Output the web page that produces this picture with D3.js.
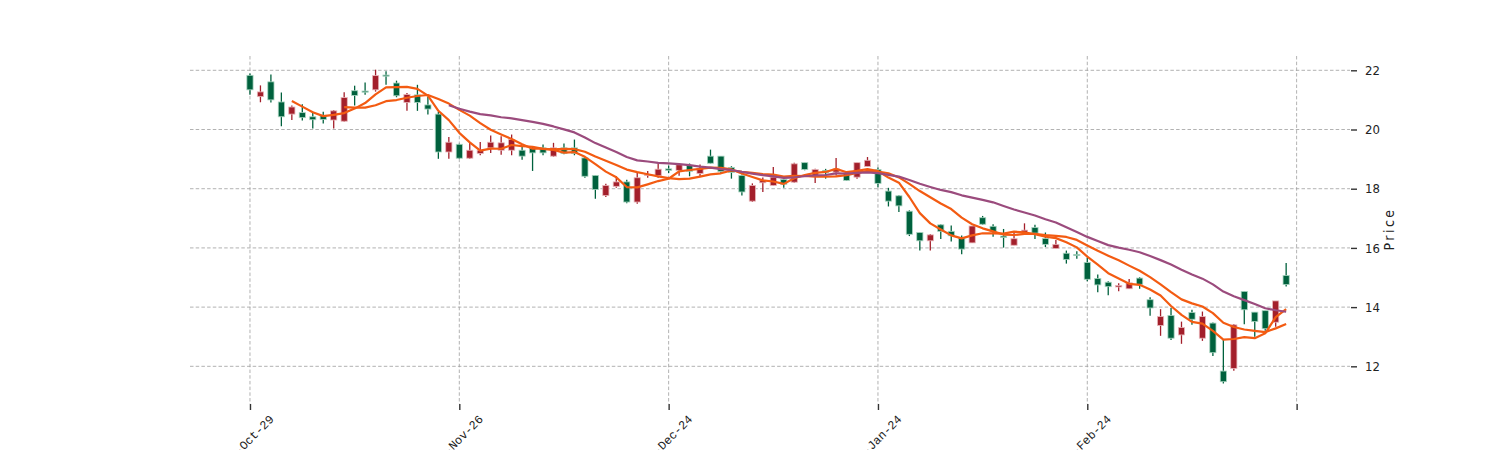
<!DOCTYPE html>
<html><head><meta charset="utf-8">
<script src="https://cdn.jsdelivr.net/npm/d3@7"></script>
<style>html,body{margin:0;padding:0;background:#fff;}svg{display:block;}</style>
</head><body>
<svg id="chart" width="1500" height="450"></svg>
<script>
const tickLabels = ["2024-Oct-29","2024-Nov-26","2024-Dec-24","2025-Jan-24","2025-Feb-24",""];
const tickIndex = [0,20,40,60,80,100];
const yTicks = [12,14,16,18,20,22];
const openV = [21.83,21.11,21.61,20.93,20.52,20.57,20.43,20.48,20.32,20.28,
21.31,21.30,21.34,21.84,21.57,20.91,21.17,20.83,20.52,19.24,
19.50,19.03,19.19,19.38,19.30,19.30,19.30,19.36,19.38,19.10,
19.38,19.38,19.04,18.45,17.77,18.08,18.23,17.55,18.45,18.44,
18.67,18.62,18.78,18.51,19.10,19.10,18.72,18.45,17.58,18.20,
18.11,18.31,18.22,18.88,18.43,18.62,18.56,18.51,18.39,18.75,
18.65,17.92,17.76,17.24,16.52,16.24,16.78,16.56,16.33,16.17,
17.02,16.73,16.40,16.09,16.52,16.69,16.32,15.98,15.82,15.78,
15.51,14.97,14.84,14.68,14.62,14.98,14.25,13.38,13.72,13.06,
13.82,12.95,13.46,11.84,11.93,14.53,13.83,13.88,13.49,15.07];
const highV = [21.89,21.49,21.86,21.25,20.81,20.85,20.60,20.60,20.66,21.26,
21.48,21.59,22.02,21.97,21.65,21.23,21.51,21.11,20.60,19.75,
19.52,19.55,19.58,19.80,19.77,19.83,19.41,19.44,19.49,19.55,
19.53,19.66,19.07,18.45,18.17,18.42,18.30,18.53,18.60,18.85,
18.78,18.85,18.85,18.82,19.32,19.10,18.76,18.48,18.18,18.38,
18.73,18.39,18.88,18.88,18.67,18.67,19.04,18.53,18.88,19.07,
18.72,18.03,17.78,17.27,16.52,16.47,16.80,16.76,16.42,16.74,
17.08,16.80,16.64,16.51,16.83,16.78,16.52,16.27,15.91,15.89,
15.67,15.10,14.87,14.81,14.95,15.01,14.33,13.93,13.97,13.51,
13.91,13.85,13.48,12.89,13.43,14.53,13.83,13.88,14.21,15.49];
const lowV = [21.17,20.92,20.91,20.11,20.32,20.30,20.03,20.20,20.03,20.26,
20.81,21.17,21.28,21.51,21.09,20.63,20.63,20.51,19.01,19.01,
19.00,19.00,19.13,19.21,19.15,19.13,18.98,18.60,19.13,19.08,
19.16,19.13,18.37,17.66,17.72,18.03,17.51,17.49,18.37,18.37,
18.53,18.44,18.42,18.42,18.85,18.53,18.34,17.77,17.55,17.89,
18.10,18.03,18.20,18.62,18.19,18.34,18.45,18.26,18.34,18.75,
18.05,17.40,17.21,16.40,15.91,15.91,16.30,16.22,15.79,16.17,
16.78,16.38,16.01,16.09,16.50,16.30,16.03,15.98,15.47,15.63,
14.87,14.50,14.40,14.54,14.61,14.62,13.71,13.03,12.89,12.76,
13.40,12.86,12.35,11.42,11.85,13.42,13.00,13.20,13.34,14.70];
const closeV = [21.34,21.27,21.00,20.43,20.76,20.40,20.33,20.34,20.63,21.08,
21.15,21.26,21.82,21.80,21.14,21.18,20.91,20.69,19.24,19.57,
19.03,19.30,19.30,19.57,19.55,19.66,19.10,19.21,19.21,19.38,
19.19,19.19,18.42,17.97,18.11,18.23,17.55,18.37,18.48,18.66,
18.62,18.81,18.59,18.68,18.86,18.58,18.55,17.89,18.11,18.28,
18.39,18.15,18.84,18.65,18.65,18.54,18.67,18.28,18.88,18.96,
18.18,17.58,17.42,16.46,16.24,16.44,16.56,16.41,15.96,16.74,
16.80,16.55,16.35,16.31,16.60,16.50,16.12,16.12,15.61,15.74,
14.94,14.75,14.69,14.73,14.82,14.77,13.97,13.68,12.95,13.31,
13.59,13.68,12.46,11.48,13.40,13.91,13.51,13.27,14.21,14.76];
const maPeriods = [5,10,20];
const maColors = ["#f35b12","#f35b12","#9b4b7d"];
const upColor = "#a31f2b", downColor = "#00613d";

const svg = d3.select("#chart");
const L = 190, R = 1350, T = 56, B = 404;
const x = d3.scaleLinear().domain([-5.73, 105.1]).range([L, R]);
const y = d3.scaleLinear().domain([10.727, 22.483]).range([B, T]);
const FONT = "'Liberation Sans Narrow','DejaVu Sans Condensed','Liberation Sans',sans-serif";
const MONO = "'Liberation Mono','DejaVu Sans Mono',monospace";

// grid
const grid = svg.append("g").attr("stroke","#9e9e9e").attr("stroke-width",0.8).attr("stroke-dasharray","3.5,2.2");
grid.selectAll("line.h").data(yTicks).join("line").attr("class","h")
  .attr("x1",L).attr("x2",R).attr("y1",d=>y(d)).attr("y2",d=>y(d));
grid.selectAll("line.v").data(tickIndex).join("line").attr("class","v")
  .attr("x1",d=>x(d)).attr("x2",d=>x(d)).attr("y1",T).attr("y2",B);

// axes
const yAxis = d3.axisRight(y).tickValues(yTicks).tickSize(6).tickPadding(8).tickFormat(d3.format("d"));
const gy = svg.append("g").attr("transform",`translate(${R+1},0)`).call(yAxis);
gy.select(".domain").remove();
gy.selectAll(".tick line").attr("stroke","#333").attr("stroke-width",1.4);
gy.selectAll(".tick text").attr("font-family",FONT).attr("font-size",13).attr("fill","#222");

const xAxis = d3.axisBottom(x).tickValues(tickIndex).tickSize(6).tickFormat((d,i)=>tickLabels[i]);
const gx = svg.append("g").attr("transform",`translate(0,${B})`).call(xAxis);
gx.select(".domain").remove();
gx.selectAll(".tick line").attr("stroke","#333").attr("stroke-width",1.4);
gx.selectAll(".tick text").attr("font-family",MONO).attr("font-size",12).attr("fill","#222")
  .attr("text-anchor","end").attr("dy",null).attr("y",null)
  .attr("transform","translate(24,16) rotate(-45)");

svg.append("text").attr("transform",`translate(1394,229) rotate(-90)`)
  .attr("text-anchor","middle").attr("font-family",FONT).attr("font-size",14)
  .attr("letter-spacing","2.5px").attr("fill","#222").text("Price");

// candles
const idx = d3.range(closeV.length);
const bw = 6.2;
const cg = svg.append("g");
cg.selectAll("line.wick").data(idx).join("line")
  .attr("x1",i=>x(i)).attr("x2",i=>x(i))
  .attr("y1",i=>y(highV[i])).attr("y2",i=>y(lowV[i]))
  .attr("stroke",i=>closeV[i]>=openV[i]?upColor:downColor).attr("stroke-width",1.3);
cg.selectAll("rect.body").data(idx).join("rect")
  .attr("x",i=>x(i)-bw/2).attr("width",bw)
  .attr("y",i=>y(Math.max(openV[i],closeV[i])))
  .attr("height",i=>Math.max(1,Math.abs(y(openV[i])-y(closeV[i]))))
  .attr("fill",i=>closeV[i]>=openV[i]?upColor:downColor)
  .attr("stroke",i=>closeV[i]>=openV[i]?"#e8b6ba":"#a8d4c0").attr("stroke-width",0.8);

// moving averages
maPeriods.forEach((p,k)=>{
  const pts = [];
  for(let i=p-1;i<closeV.length;i++){
    pts.push([i, d3.mean(closeV.slice(i-p+1,i+1))]);
  }
  svg.append("path").datum(pts)
    .attr("d", d3.line().x(d=>x(d[0])).y(d=>y(d[1])).curve(d3.curveLinear))
    .attr("fill","none").attr("stroke",maColors[k]).attr("stroke-width",2.2)
    .attr("stroke-linejoin","round");
});
</script>
</body></html>
